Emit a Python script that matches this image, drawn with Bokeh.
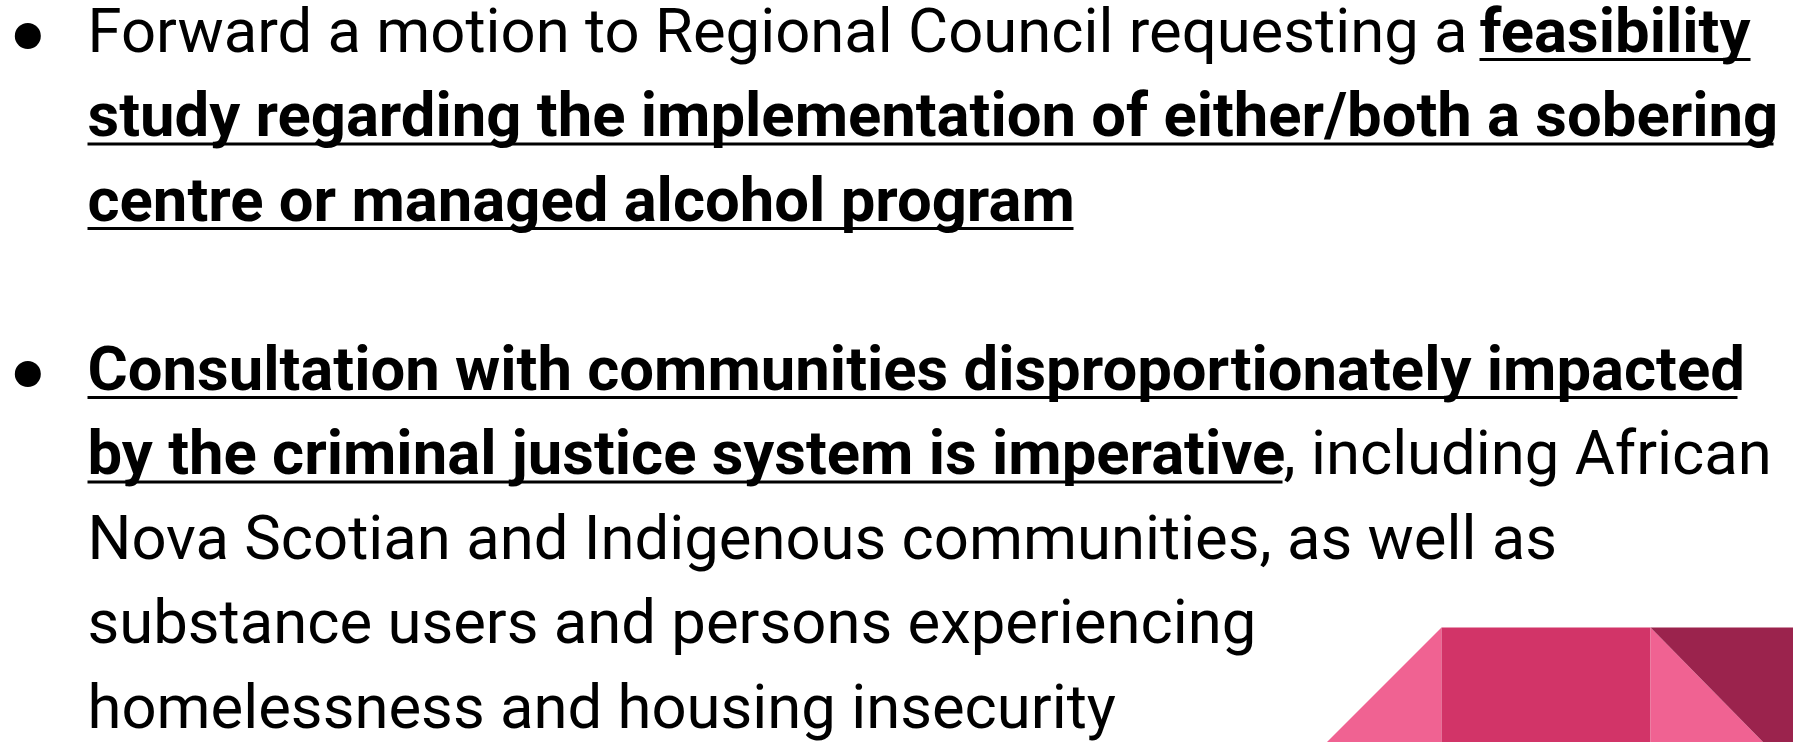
from bokeh.plotting import figure
from bokeh.models import Range1d, ColumnDataSource
from bokeh.core.properties import value
from bokeh.embed import file_html
from bokeh.resources import INLINE

# ---- slide content -------------------------------------------------------
run_text = [
    "Forward a motion to Regional Council requesting a ",
    "feasibility",
    "study regarding the implementation of either/both a sobering",
    "centre or managed alcohol program",
    "Consultation with communities disproportionately impacted",
    "by the criminal justice system is imperative",
    ", including African",
    "Nova Scotian and Indigenous communities, as well as",
    "substance users and persons experiencing",
    "homelessness and housing insecurity",
]
run_line = [0, 0, 1, 2, 4, 5, 5, 6, 7, 8]
run_bold = [False, True, True, True, True, True, False, False, False, False]
bullet_lines = [0, 4]

# ---- layout (page pixels) -------------------------------------------------
W, H = 1793, 742
TEXT_X = 87
FIRST_BASELINE = 53
LINE_STEP = 84.5
FONT_SIZE = "61.6px"
TEXT_DY = -23          # compensation for the svg text baseline placement
run_x = [TEXT_X, 1479, TEXT_X, TEXT_X, TEXT_X, TEXT_X, 1283, TEXT_X, TEXT_X, TEXT_X]
underline_end = {1: 1750, 2: 1773, 3: 1073, 4: 1737, 5: 1282}

p = figure(width=W, height=H, output_backend="svg", toolbar_location=None,
           x_range=Range1d(0, W), y_range=Range1d(H, 0),
           x_axis_location=None, y_axis_location=None, min_border=0)
p.grid.visible = False
p.outline_line_color = None
p.background_fill_color = "white"
p.border_fill_color = "white"

baseline = [FIRST_BASELINE + LINE_STEP * l for l in run_line]

for bold in (False, True):
    idx = [i for i in range(len(run_text)) if run_bold[i] == bold]
    src = ColumnDataSource(dict(x=[run_x[i] for i in idx],
                                y=[baseline[i] + TEXT_DY for i in idx],
                                t=[run_text[i] for i in idx]))
    p.text(x="x", y="y", text="t", source=src, text_font=value("Roboto"),
           text_font_size=FONT_SIZE, text_font_style="bold" if bold else "normal",
           text_color="#000000", text_baseline="alphabetic", text_align="left")

# underlines for the bold runs
ul = [i for i in range(len(run_text)) if run_bold[i]]
p.segment(x0=[run_x[i] for i in ul], x1=[underline_end[i] for i in ul],
          y0=[baseline[i] + 6 for i in ul], y1=[baseline[i] + 6 for i in ul],
          line_color="#000000", line_width=3)

# bullets
p.circle(x=[27.3] * len(bullet_lines),
         y=[FIRST_BASELINE + LINE_STEP * l - 17.5 for l in bullet_lines],
         radius=13, fill_color="#000000", line_color=None)

# decorative band in the lower right corner
p.patch([1326, 1441, 1441], [742, 627, 742], fill_color="#F06292", line_color=None)
p.patch([1441, 1650, 1650, 1441], [627, 627, 742, 742], fill_color="#D23468", line_color=None)
p.patch([1650, 1763, 1650], [627, 742, 742], fill_color="#F06292", line_color=None)
p.patch([1650, 1793, 1793, 1763], [627, 627, 742, 742], fill_color="#9B234D", line_color=None)

open("out.html", "w").write(file_html(p, INLINE))
